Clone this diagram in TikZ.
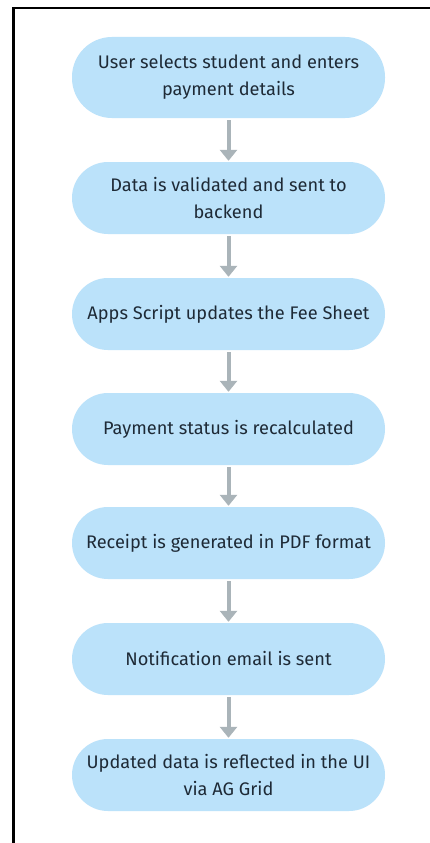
\documentclass[tikz,border=0pt]{standalone}
\usepackage{fontspec}
\setmainfont{Fira Sans}
\usetikzlibrary{arrows.meta}
\definecolor{stepfill}{HTML}{BBE2FA}
\definecolor{steptext}{HTML}{1E2A36}
\definecolor{flowarrow}{HTML}{AAB4B9}
\tikzset{
  stepbox/.style={rectangle, rounded corners=36pt, fill=stepfill, draw=none,
    minimum width=313pt, minimum height=72pt, inner sep=0pt, align=center,
    text=steptext, font=\fontsize{18.2}{27}\selectfont},
  flow/.style={draw=flowarrow, line width=4pt, -{Triangle[length=11pt,width=17pt]},
    shorten >=1pt, shorten <=2pt},
}
\begin{document}
\begin{tikzpicture}[x=1pt,y=-1pt]
  \useasboundingbox (0,0) rectangle (430,843);
  \fill[white] (0,0) rectangle (430,843);
  % frame
  \draw[line width=2.5pt] (13.5,845) -- (13.5,8) -- (432,8);
  % steps
  \node[stepbox, minimum height=81pt, rounded corners=40pt] (s1) at (228.5,77.5)
    {User selects student and enters\\payment details};
  \node[stepbox] (s2) at (228.5,198) {Data is validated and sent to\\backend};
  \node[stepbox] (s3) at (228.5,314) {Apps Script updates the Fee Sheet};
  \node[stepbox] (s4) at (228.5,429) {Payment status is recalculated};
  \node[stepbox] (s5) at (228.5,543) {Receipt is generated in PDF format};
  \node[stepbox] (s6) at (228.5,659) {Notification email is sent};
  \node[stepbox] (s7) at (228.5,775) {Updated data is reflected in the UI\\via AG Grid};
  % connectors
  \foreach \a/\b in {s1/s2,s2/s3,s3/s4,s4/s5,s5/s6,s6/s7}
    \draw[flow] (\a) -- (\b);
\end{tikzpicture}
\end{document}
